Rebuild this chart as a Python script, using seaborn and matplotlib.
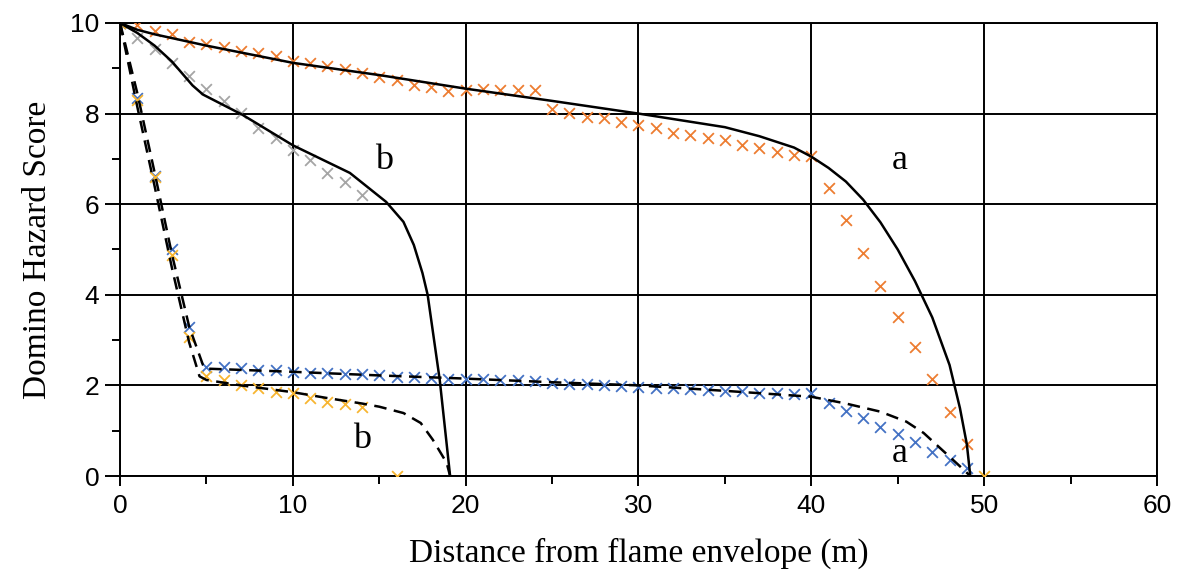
import numpy as np
import pandas as pd
import matplotlib
matplotlib.use("Agg")
import matplotlib.pyplot as plt
from matplotlib.ticker import MultipleLocator
import seaborn as sns

# model curves (black lines)
line_a_x = [0, 1, 2, 5, 10, 15, 20, 25, 30, 33, 35, 37, 39, 40, 41, 42, 43, 44, 45, 46, 47, 48, 48.6, 49, 49.2]
line_a_y = [10, 9.85, 9.75, 9.5, 9.12, 8.85, 8.55, 8.28, 8.0, 7.82, 7.7, 7.5, 7.25, 7.05, 6.8, 6.5, 6.1, 5.6, 5.0, 4.3, 3.5, 2.45, 1.5, 0.7, 0]

line_b_x = [0, 1, 2, 3, 4.2, 4.8, 7.1, 10, 13.3, 15.4, 16.4, 17.0, 17.5, 17.8, 18.5, 19.1]
line_b_y = [10, 9.78, 9.5, 9.15, 8.62, 8.42, 7.97, 7.3, 6.69, 6.05, 5.61, 5.1, 4.48, 4.0, 2.12, 0]

dash_a_x = [0, 1, 2, 3, 4, 4.8, 5, 10, 15, 20, 25, 30, 35, 40, 42, 44, 45.5, 46.5, 47.5, 48.5, 49.2]
dash_a_y = [10, 8.45, 6.7, 4.9, 3.3, 2.45, 2.37, 2.3, 2.22, 2.15, 2.07, 2.0, 1.88, 1.75, 1.6, 1.42, 1.2, 0.95, 0.6, 0.25, 0]

dash_b_x = [0, 1, 2, 3, 4, 4.6, 5, 7, 10, 12, 14, 15, 16.4, 17.4, 18.1, 18.9, 19.1]
dash_b_y = [10, 8.15, 6.4, 4.6, 2.95, 2.2, 2.12, 2.0, 1.85, 1.72, 1.6, 1.53, 1.39, 1.17, 0.8, 0.29, 0]

# measured points (crosses)
orange_x = list(range(0, 50))
orange_y = [10, 9.95, 9.83, 9.76, 9.59, 9.54, 9.47, 9.39, 9.34, 9.26,
            9.17, 9.12, 9.04, 8.98, 8.9, 8.8, 8.74, 8.63, 8.58, 8.5,
            8.52, 8.54, 8.52, 8.52, 8.52, 8.1, 8.02, 7.93, 7.9, 7.82,
            7.75, 7.68, 7.58, 7.53, 7.46, 7.42, 7.31, 7.24, 7.16, 7.09,
            7.06, 6.36, 5.65, 4.92, 4.2, 3.52, 2.84, 2.14, 1.41, 0.71]

grey_x = list(range(0, 15))
grey_y = [10, 9.67, 9.43, 9.12, 8.82, 8.54, 8.28, 8.01, 7.68, 7.46, 7.2, 6.98, 6.69, 6.48, 6.2]

blue_x = list(range(0, 50))
blue_y = [10, 8.34, 6.62, 5.0, 3.3, 2.41, 2.41, 2.38, 2.34, 2.34,
          2.3, 2.28, 2.28, 2.25, 2.25, 2.23, 2.19, 2.18, 2.16, 2.14,
          2.15, 2.14, 2.12, 2.12, 2.1, 2.05, 2.03, 2.02, 2.0, 1.98,
          1.97, 1.95, 1.94, 1.92, 1.9, 1.88, 1.88, 1.84, 1.83, 1.81,
          1.83, 1.61, 1.43, 1.28, 1.09, 0.93, 0.76, 0.54, 0.35, 0.18]

gold_x = list(range(0, 15)) + [16, 50]
gold_y = [10, 8.3, 6.6, 4.88, 3.07, 2.2, 2.12, 2.01, 1.94, 1.86,
          1.83, 1.72, 1.64, 1.59, 1.53, 0, 0]

labels = [("b", 15.3, 6.97), ("a", 45.1, 6.97), ("b", 14.0, 0.8), ("a", 45.1, 0.5)]

sns.set_style("white")
plt.rcParams["font.family"] = ["Liberation Sans", "DejaVu Sans"]
plt.rcParams["text.color"] = "black"
plt.rcParams["axes.labelcolor"] = "black"

fig = plt.figure(figsize=(11.86, 5.86), dpi=100)
ax = fig.add_axes([0.1012, 0.1877, 0.8743, 0.7731])

ax.grid(True, which="major", color="black", linewidth=1.4, zorder=0)
ax.set_axisbelow(True)

for xs, ys, col in [(orange_x, orange_y, "#ED7D31"), (grey_x, grey_y, "#A5A5A5"),
                    (blue_x, blue_y, "#4472C4"), (gold_x, gold_y, "#F7B531")]:
    sns.scatterplot(x=xs, y=ys, marker="x", color=col, s=60, linewidth=1.3, ax=ax, zorder=3)

for xs, ys in [(line_a_x, line_a_y), (line_b_x, line_b_y)]:
    sns.lineplot(x=xs, y=ys, sort=False, estimator=None, color="black", linewidth=1.8, ax=ax, zorder=4)

for xs, ys in [(dash_a_x, dash_a_y), (dash_b_x, dash_b_y)]:
    sns.lineplot(x=xs, y=ys, sort=False, estimator=None, color="black", linewidth=1.8,
                 linestyle=(0, (5, 3)), ax=ax, zorder=4)

for txt, x, y in labels:
    ax.text(x, y, txt, family="Liberation Serif", fontsize=26, color="black",
            ha="center", va="center", zorder=5)

ax.set_xlim(0, 60)
ax.set_ylim(0, 10)
ax.xaxis.set_major_locator(MultipleLocator(10))
ax.xaxis.set_minor_locator(MultipleLocator(5))
ax.yaxis.set_major_locator(MultipleLocator(2))
ax.yaxis.set_minor_locator(MultipleLocator(1))
ax.tick_params(axis="x", which="major", direction="out", length=7, width=1.4, labelsize=19, pad=6)
ax.tick_params(axis="x", which="minor", direction="out", length=6, width=1.4)
ax.tick_params(axis="y", which="major", direction="out", length=11, width=1.4, labelsize=19, pad=4)
ax.tick_params(axis="y", which="minor", direction="out", length=6, width=1.4)
ax.tick_params(bottom=True, left=True, which="both", color="black", labelcolor="black")

for sp in ax.spines.values():
    sp.set_color("black")
    sp.set_linewidth(1.4)

ax.set_xlabel("Distance from flame envelope (m)", family="Liberation Serif", fontsize=24,
              color="black", labelpad=14)
ax.set_ylabel("Domino Hazard Score", family="Liberation Serif", fontsize=24,
              color="black", labelpad=12)

fig.savefig("out.png", dpi=100)
